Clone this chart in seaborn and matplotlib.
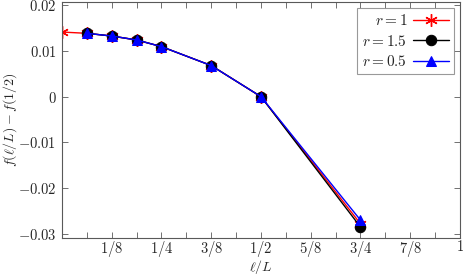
import matplotlib
matplotlib.use("Agg")
import matplotlib.pyplot as plt
import seaborn as sns
import numpy as np
from matplotlib.ticker import MultipleLocator, FixedLocator

sns.set_style("ticks")
plt.rcParams['mathtext.fontset'] = 'cm'
plt.rcParams['font.family'] = ['DejaVu Serif']
plt.rcParams['font.size'] = 10

# data
x_r1 = [0, 1/16, 1/8, 3/16, 1/4, 3/8, 1/2, 3/4]
y_r1 = [0.01413, 0.01385, 0.01326, 0.0124, 0.01094, 0.0068, 0.0, -0.0278]
x_r15 = [1/16, 1/8, 3/16, 1/4, 3/8, 1/2, 3/4]
y_r15 = [0.01385, 0.01326, 0.0124, 0.01094, 0.0068, 0.0, -0.0285]
x_r05 = [1/16, 1/8, 3/16, 1/4, 3/8, 1/2, 3/4]
y_r05 = [0.01385, 0.01326, 0.0124, 0.01094, 0.0068, 0.0, -0.0270]

xtick_vals = [1/8, 1/4, 3/8, 1/2, 5/8, 3/4, 7/8, 1]
xtick_labels = ['$1/8$', '$1/4$', '$3/8$', '$1/2$', '$5/8$', '$3/4$', '$7/8$', '$1$']
ytick_vals = [-0.03, -0.02, -0.01, 0, 0.01, 0.02]
ytick_labels = ['$-0.03$', '$-0.02$', '$-0.01$', '$0$', '$0.01$', '$0.02$']

fig = plt.figure(figsize=(4.64, 2.76), dpi=100)
ax = fig.add_axes([62/464, 1 - 238/276, (460-62)/464, (238-2)/276])

sns.lineplot(x=x_r1, y=y_r1, ax=ax, color='red', marker=(6, 2, 0), markersize=9,
             markeredgewidth=1.0, markeredgecolor='red', linewidth=1, label='$r = 1$')
sns.lineplot(x=x_r15, y=y_r15, ax=ax, color='black', marker='o', markersize=7.5,
             markeredgecolor='black', linewidth=1, label='$r = 1.5$')
sns.lineplot(x=x_r05, y=y_r05, ax=ax, color='blue', marker='^', markersize=7.5,
             markeredgecolor='blue', linewidth=1, label='$r = 0.5$')

ax.set_xlim(0, 1)
ax.set_ylim(-0.0309, 0.0207)
ax.xaxis.set_major_locator(FixedLocator(xtick_vals))
ax.set_xticklabels(xtick_labels)
ax.xaxis.set_minor_locator(MultipleLocator(1/16))
ax.yaxis.set_major_locator(FixedLocator(ytick_vals))
ax.set_yticklabels(ytick_labels)

for s in ax.spines.values():
    s.set_visible(True)
    s.set_color('0.35')
    s.set_linewidth(0.8)
ax.tick_params(which='both', direction='in', top=True, right=True, color='0.35', width=0.6)
ax.tick_params(which='major', length=4, labelsize=10.5)
ax.tick_params(axis='x', which='major', pad=1)
ax.tick_params(axis='y', which='major', pad=4)
ax.tick_params(which='minor', length=4)

ax.set_xlabel(r'$\ell/L$', fontsize=10, labelpad=-1)
ax.set_ylabel(r'$f(\ell/L) - f(1/2)$', fontsize=10, labelpad=-1)

leg = ax.legend(loc='upper right', markerfirst=False, frameon=True, fancybox=False,
                edgecolor='0.5', fontsize=11, handlelength=2.3, borderaxespad=0.4,
                labelspacing=0.35, handletextpad=0.4, borderpad=0.35)
leg.get_frame().set_linewidth(0.8)
for t in leg.get_texts():
    t.set_ha('right')

fig.savefig('out.png', dpi=100)
